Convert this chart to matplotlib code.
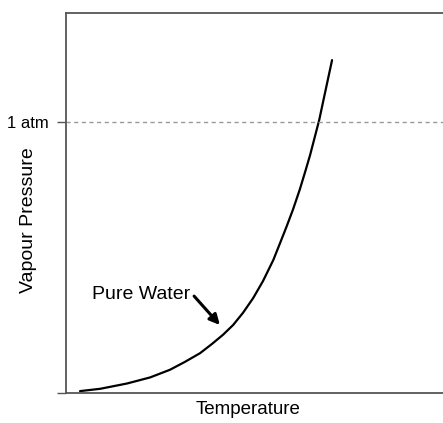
import matplotlib
matplotlib.use("Agg")
import matplotlib.pyplot as plt

plt.rcParams['font.family'] = ['Liberation Sans', 'DejaVu Sans']

# curve (arbitrary units, 0-100 on both axes)
temperature = [3.7, 9.0, 16.1, 22.2, 27.4, 31.4, 35.4, 38.5, 41.4, 44.1, 46.7,
               49.4, 52.0, 54.7, 56.5, 58.2, 59.9, 61.7, 63.1, 64.4, 66.8, 68.3, 70.2]
pressure = [0.5, 1.1, 2.5, 4.1, 6.1, 8.2, 10.5, 12.9, 15.3, 17.9, 21.1,
            25.0, 29.5, 35.0, 39.5, 43.8, 48.3, 53.6, 58.2, 62.6, 71.8, 78.8, 87.6]

atm_level = 71.3
ytick_vals = [0, atm_level]
ytick_labels = ["", "1 atm"]

label_xy = (6.9, 24.7)     # "Pure Water" text
arrow_tail = (33.8, 25.5)
arrow_head = (40.6, 17.9)

fig = plt.figure(figsize=(4.43, 4.23), dpi=100)
ax = fig.add_axes([66 / 443, 30 / 423, 379 / 443, 380 / 423])
ax.set_xlim(0, 100)
ax.set_ylim(0, 100)

ax.plot(temperature, pressure, color='black', lw=1.6,
        solid_capstyle='round', solid_joinstyle='round')
ax.axhline(atm_level, color='#999999', lw=1.0, ls=(0, (3, 2.5)))

ax.text(label_xy[0], label_xy[1], "Pure Water", fontsize=14, ha='left', va='baseline')
ax.annotate("", xy=arrow_head, xytext=arrow_tail,
            arrowprops=dict(arrowstyle='-|>', color='black', lw=2.2,
                            mutation_scale=15, shrinkA=0, shrinkB=0))

for side in ['left', 'top', 'bottom']:
    ax.spines[side].set_color('#555555')
    ax.spines[side].set_linewidth(1.3)
ax.spines['right'].set_visible(False)

ax.set_xticks([])
ax.set_yticks(ytick_vals)
ax.set_yticklabels(ytick_labels, fontsize=12)
ax.tick_params(axis='y', length=6.5, width=1.0, color='#555555', pad=6)

ax.text(0.48, -0.022, "Temperature", transform=ax.transAxes, fontsize=13.5,
        ha='center', va='top')
ax.text(-0.100, 0.455, "Vapour Pressure", transform=ax.transAxes, fontsize=14,
        ha='center', va='center', rotation=90)

fig.savefig("out.png", dpi=100)
